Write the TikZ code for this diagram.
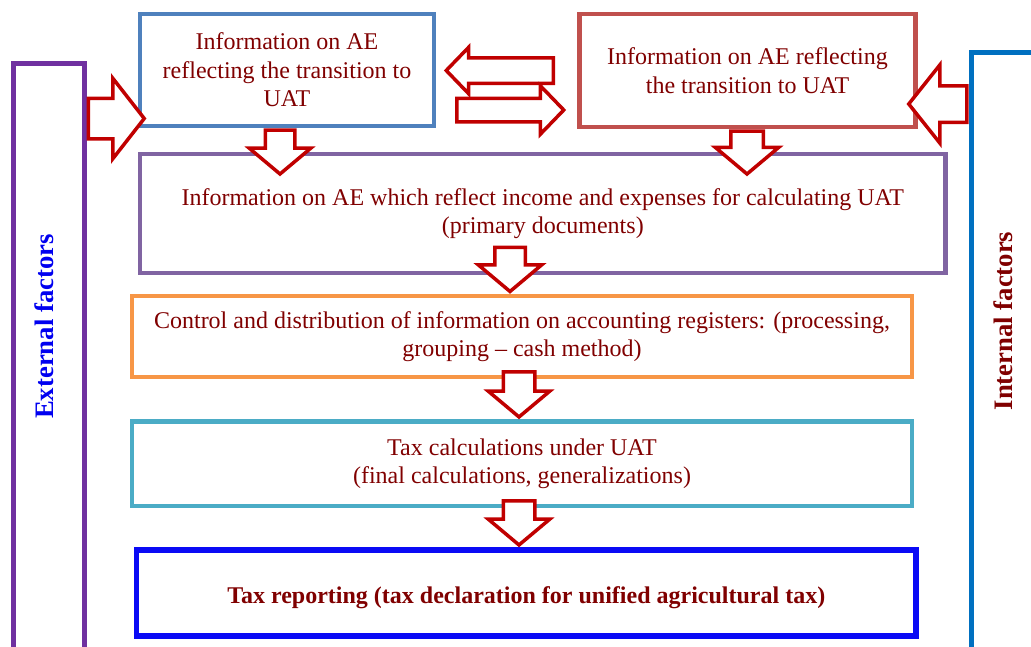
\documentclass[tikz,border=0pt]{standalone}
\usepackage{fontspec}
\setmainfont{Liberation Serif}
\usepackage{xcolor}
\usepackage{tikz}
\usetikzlibrary{shapes.arrows, positioning, calc}

\definecolor{textred}{RGB}{128,0,0}
\definecolor{arrowred}{RGB}{192,0,0}
\definecolor{infoblue}{RGB}{79,129,189}
\definecolor{eventred}{RGB}{192,80,77}
\definecolor{primarypurple}{RGB}{128,100,162}
\definecolor{controlorange}{RGB}{247,150,70}
\definecolor{calcteal}{RGB}{75,172,198}
\definecolor{reportblue}{RGB}{10,10,245}
\definecolor{extpurple}{RGB}{112,48,160}
\definecolor{intblue}{RGB}{0,112,192}
\definecolor{extblue}{RGB}{0,0,240}

\tikzstyle{box} = [rectangle, inner sep=0pt, text centered, align=center, text=textred, font=\fontsize{24}{28.5}\selectfont, line width=4.5pt]
\tikzstyle{sidebox} = [rectangle, inner sep=0pt, line width=5pt]
\tikzstyle{sidelabel} = [rotate=90, inner sep=0pt, font=\bfseries\fontsize{26.7}{30}\selectfont]
\tikzstyle{blockarrow} = [single arrow, draw=arrowred, fill=white, line width=3.5pt, inner xsep=0pt, single arrow tip angle=100]

\begin{document}
\begin{tikzpicture}[x=1pt, y=-1pt]
\useasboundingbox (0,0) rectangle (1031,646);
\clip (0,0) rectangle (1031,646);

% side frames
\node (external) [sidebox, draw=extpurple, minimum width=70.5pt, minimum height=620pt] at (48.75,373.5) {};
\node (internal) [sidebox, draw=intblue, minimum width=80pt, minimum height=640pt] at (1011,372) {};
\node (extlabel) [sidelabel, text=extblue] at (44,326.5) {External factors};
\node (intlabel) [sidelabel, text=textred] at (1003,321) {Internal factors};

% boxes
\node (info) [box, draw=infoblue, minimum width=294pt, minimum height=112pt] at (287,70) {Information on AE\\reflecting the transition to\\UAT};
\node (event) [box, draw=eventred, minimum width=336pt, minimum height=113pt] at (747.5,70.5) {Information on AE reflecting\\the transition to UAT};
\node (primary) [box, draw=primarypurple, minimum width=805.5pt, minimum height=119pt] at (542.75,213.5) {Information on AE which reflect income and expenses for calculating UAT\\(primary documents)};
\node (control) [box, draw=controlorange, minimum width=780pt, minimum height=81pt] at (522,336.5) {Control and distribution of information on accounting registers: (processing,\\grouping -- cash method)};
\node (taxcalc) [box, draw=calcteal, minimum width=780pt, minimum height=84.5pt] at (522,463.75) {Tax calculations under UAT\\(final calculations, generalizations)};
\node (report) [box, draw=reportblue, line width=5.5pt, minimum width=779.5pt, minimum height=86pt, text height=20pt, text depth=0pt, font=\bfseries\fontsize{24}{28.5}\selectfont] at (526.25,593) {Tax reporting (tax declaration for unified agricultural tax)};

% block arrows
\node (extarrow) [blockarrow, anchor=tail, minimum height=56pt, inner ysep=18.5pt, single arrow head extend=20pt, single arrow tip angle=104] at (external.east |- 0,118.5) {};
\node (backarrow) [blockarrow, rotate=180, anchor=tail, minimum height=107pt, inner ysep=11pt, single arrow head extend=10.5pt, single arrow tip angle=92] at (555,70.5) {};
\node (fwdarrow) [blockarrow, anchor=tail, minimum height=107pt, inner ysep=10pt, single arrow head extend=12.5pt, single arrow tip angle=92] at (455,110) {};
\node (intarrow) [blockarrow, rotate=180, anchor=tail, minimum height=58pt, inner ysep=16.5pt, single arrow head extend=21pt, single arrow tip angle=103] at (internal.west |- 0,104) {};
\node (down1) [blockarrow, rotate=-90, anchor=tail, minimum height=44pt, inner ysep=13pt, single arrow head extend=16pt] at (280,0 |- info.south) {};
\node (down2) [blockarrow, rotate=-90, anchor=tail, minimum height=43pt, inner ysep=14.5pt, single arrow head extend=15.5pt] at (747,0 |- event.south) {};
\node (down3) [blockarrow, rotate=-90, anchor=tip, minimum height=44pt, inner ysep=13.5pt, single arrow head extend=16.5pt] at (510,0 |- control.north) {};
\node (down4) [blockarrow, rotate=-90, anchor=tip, minimum height=45pt, inner ysep=14pt, single arrow head extend=15pt] at (519,0 |- taxcalc.north) {};
\node (down5) [blockarrow, rotate=-90, anchor=tip, minimum height=44pt, inner ysep=14pt, single arrow head extend=15pt] at (519,0 |- report.north) {};
\end{tikzpicture}
\end{document}
